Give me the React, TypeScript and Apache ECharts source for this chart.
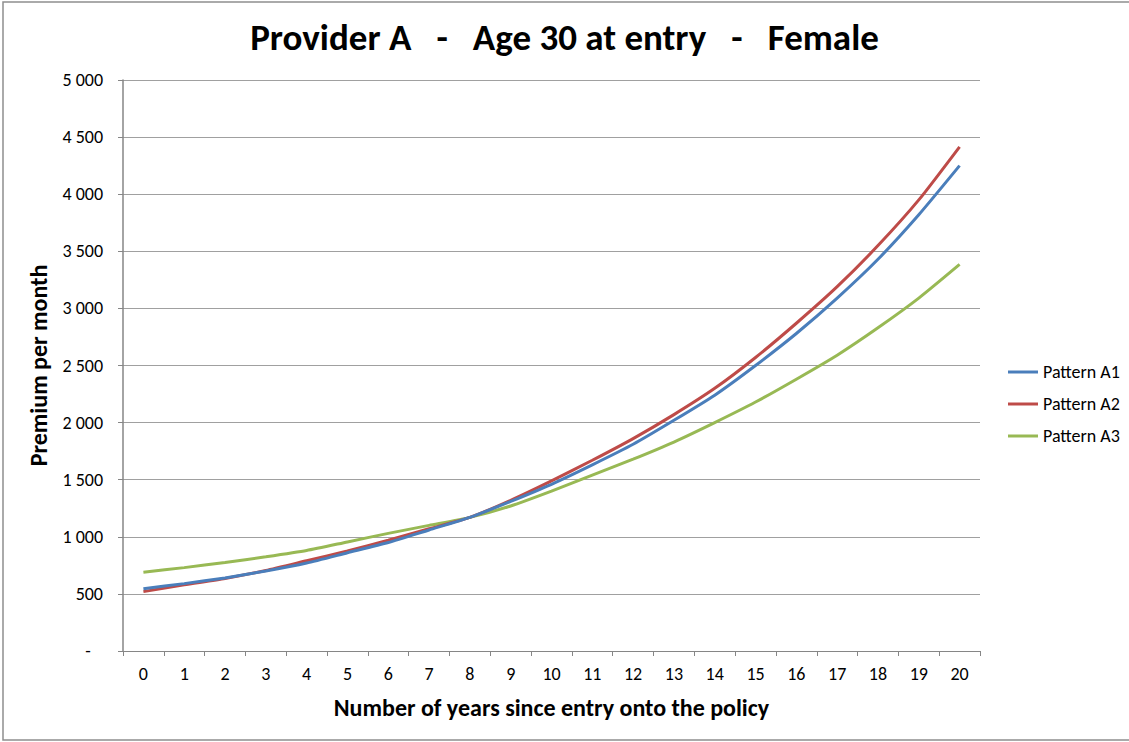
import React, { useEffect, useRef } from "react";
import * as echarts from "echarts";

const years = ["0","1","2","3","4","5","6","7","8","9","10","11","12","13","14","15","16","17","18","19","20"];
const patternA1 = [545, 590, 640, 700, 770, 860, 950, 1060, 1170, 1310, 1460, 1630, 1810, 2020, 2240, 2500, 2780, 3090, 3430, 3820, 4250];
const patternA2 = [520, 580, 635, 705, 790, 875, 970, 1070, 1170, 1320, 1490, 1670, 1860, 2070, 2300, 2570, 2870, 3190, 3550, 3950, 4415];
const patternA3 = [690, 730, 775, 825, 880, 955, 1030, 1100, 1170, 1270, 1400, 1540, 1680, 1830, 2000, 2180, 2380, 2590, 2830, 3090, 3385];
const seriesNames = ["Pattern A1", "Pattern A2", "Pattern A3"];
const colors = ["#4a7ebb", "#be4b48", "#98b954"];

const FONT = "Carlito, 'Open Sans', sans-serif";
const NB = "\u00a0";

export default function App() {
  const ref = useRef<HTMLDivElement>(null);
  useEffect(() => {
    const chart = echarts.init(ref.current!, null, { renderer: "svg" });
    const data = [patternA1, patternA2, patternA3];
    chart.setOption({
      animation: false,
      backgroundColor: "#ffffff",
      textStyle: { fontFamily: FONT },
      title: {
        text: `Provider A${NB}${NB}${NB}-${NB}${NB}${NB}Age 30 at entry${NB}${NB}${NB}-${NB}${NB}${NB}Female`,
        left: "center",
        top: 14,
        textStyle: { fontFamily: FONT, fontSize: 37, fontWeight: "bold", color: "#000" },
      },
      graphic: [
        {
          type: "rect",
          shape: { x: 3, y: 2, width: 1140, height: 738 },
          style: { fill: "none", stroke: "#8e8e8e", lineWidth: 1.5 },
          silent: true,
        },
      ],
      legend: {
        orient: "vertical",
        left: 1003,
        top: 358,
        itemWidth: 30,
        itemHeight: 3,
        itemGap: 14,
        icon: "rect",
        data: seriesNames,
        textStyle: { fontFamily: FONT, fontSize: 18, color: "#000" },
      },
      grid: { left: 123, right: 149, top: 80, bottom: 91, containLabel: false },
      xAxis: {
        type: "category",
        data: years,
        boundaryGap: true,
        name: "Number of years since entry onto the policy",
        nameLocation: "middle",
        nameGap: 44,
        nameTextStyle: { fontFamily: FONT, fontSize: 24, fontWeight: "bold", color: "#000" },
        axisLine: { lineStyle: { color: "#868686", width: 1 } },
        axisTick: { show: true, length: 5, alignWithLabel: false, lineStyle: { color: "#868686" } },
        axisLabel: { fontFamily: FONT, fontSize: 18, color: "#000", margin: 14, interval: 0 },
      },
      yAxis: {
        type: "value",
        min: 0,
        max: 5000,
        interval: 500,
        name: "Premium per month",
        nameLocation: "middle",
        nameGap: 73,
        nameRotate: 90,
        nameTextStyle: { fontFamily: FONT, fontSize: 24, fontWeight: "bold", color: "#000" },
        axisLine: { show: true, lineStyle: { color: "#868686", width: 1.5 } },
        axisTick: { show: true, length: 5, lineStyle: { color: "#868686" } },
        splitLine: { lineStyle: { color: "#a0a0a0", width: 1 } },
        axisLabel: {
          fontFamily: FONT,
          fontSize: 18,
          color: "#000",
          margin: 20,
          formatter: (v: number) =>
            v === 0 ? `-${NB}${NB}${NB}` : String(v).replace(/\B(?=(\d{3})+(?!\d))/g, " "),
        },
      },
      series: data.map((d, i) => ({
        name: seriesNames[i],
        type: "line",
        data: d,
        symbol: "none",
        smooth: 0.2,
        lineStyle: { color: colors[i], width: 3 },
        itemStyle: { color: colors[i] },
        z: 3 - i,
      })),
    });
    return () => chart.dispose();
  }, []);
  return (
    <div
      ref={ref}
      style={{ position: "fixed", left: 0, top: 0, width: 1129, height: 742 }}
    />
  );
}
